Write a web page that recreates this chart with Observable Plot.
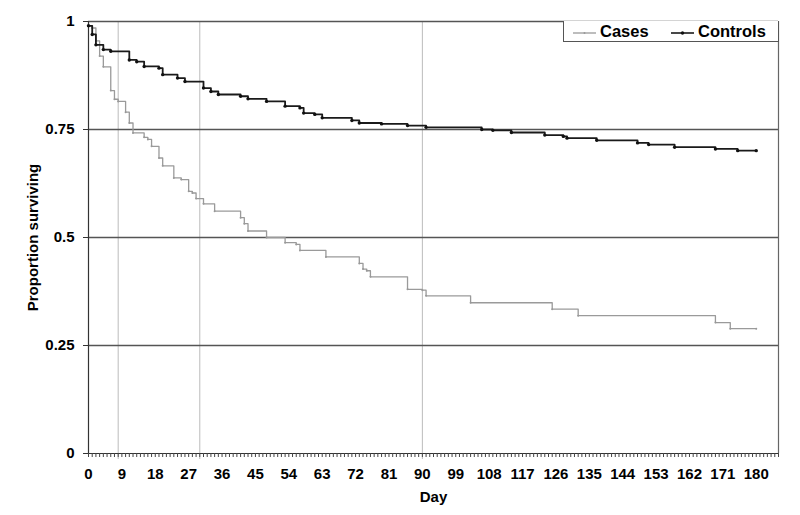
<!DOCTYPE html>
<html><head><meta charset="utf-8">
<script src="https://cdn.jsdelivr.net/npm/d3@7"></script>
<script src="https://cdn.jsdelivr.net/npm/@observablehq/plot@0.6"></script>
<style>
body{margin:0;background:#fff;font-family:"Liberation Sans",Arial,sans-serif;}
#wrap{position:relative;width:800px;height:515px;}
#legend{position:absolute;left:563px;top:21px;width:214px;height:20px;border:1px solid #555;border-top:none;background:#fff;font-weight:bold;font-size:16.5px;color:#000;}
#legend .item{position:absolute;top:2px;line-height:16px;white-space:nowrap;}
#legend svg{vertical-align:middle;margin-right:4px;}
</style>
</head><body><div id="wrap"></div>
<script>
// Kaplan–Meier steps (day at which each level starts)
const caseDays   = [0, 1, 2, 3, 4, 6, 7, 8, 10, 11, 12, 15, 16, 17, 19, 20, 23, 25, 27, 28, 29, 31, 34, 41, 42, 43, 48, 53, 56, 57, 64, 73, 74, 75, 76, 86, 90, 91, 103, 125, 132, 169, 173, 180];
const caseValues = [0.99, 0.985, 0.955, 0.92, 0.895, 0.84, 0.82, 0.815, 0.79, 0.765, 0.742, 0.732, 0.727, 0.711, 0.684, 0.666, 0.638, 0.634, 0.607, 0.603, 0.59, 0.578, 0.561, 0.546, 0.532, 0.515, 0.5, 0.488, 0.484, 0.47, 0.455, 0.44, 0.427, 0.423, 0.409, 0.38, 0.378, 0.365, 0.349, 0.334, 0.319, 0.303, 0.289, 0.289];
const controlDays   = [0, 1, 2, 4, 6, 11, 13, 15, 19, 20, 24, 26, 31, 33, 35, 41, 43, 48, 53, 57, 58, 61, 63, 71, 73, 79, 86, 91, 106, 109, 114, 123, 128, 129, 137, 148, 151, 158, 169, 175, 180];
const controlValues = [0.99, 0.97, 0.946, 0.935, 0.931, 0.911, 0.907, 0.896, 0.892, 0.877, 0.869, 0.861, 0.846, 0.838, 0.831, 0.827, 0.821, 0.815, 0.804, 0.8, 0.788, 0.785, 0.777, 0.771, 0.765, 0.763, 0.759, 0.755, 0.75, 0.748, 0.743, 0.737, 0.734, 0.73, 0.725, 0.719, 0.715, 0.709, 0.705, 0.701, 0.701];

const xTickLabels = [0, 9, 18, 27, 36, 45, 54, 63, 72, 81, 90, 99, 108, 117, 126, 135, 144, 153, 162, 171, 180];
const xMinorTicks = d3.range(0, 187);
const yTickValues = [0, 0.25, 0.5, 0.75, 1];
const yTickLabels = ["0", "0.25", "0.5", "0.75", "1"];
const gridValues  = [0.25, 0.5, 0.75, 1];
const refDays     = [8, 30, 90];
const xMax = 186;

const cases    = caseDays.map((d, i) => ({day: d, value: caseValues[i]}));
const controls = controlDays.map((d, i) => ({day: d, value: controlValues[i]}));

const chart = Plot.plot({
  width: 800, height: 515,
  marginLeft: 88, marginRight: 22, marginTop: 21, marginBottom: 62,
  x: {domain: [0, xMax]},
  y: {domain: [0, 1]},
  style: {fontFamily: '"Liberation Sans", Arial, sans-serif', fontSize: "15px", fontWeight: "bold", color: "#000", background: "#fff", overflow: "visible"},
  marks: [
    Plot.ruleX(refDays, {stroke: "#bbb", strokeWidth: 1, insetBottom: -6}),
    Plot.ruleY(gridValues, {stroke: "#555", strokeWidth: 1.4}),
    Plot.ruleX([xMax], {stroke: "#666", strokeWidth: 1.2}),
    Plot.axisY({ticks: yTickValues, tickSize: 5, tickPadding: 9, tickFormat: d => yTickLabels[yTickValues.indexOf(d)], label: "Proportion surviving", labelArrow: "none", labelAnchor: "center", labelOffset: 61, stroke: "#333", fill: "#000"}),
    Plot.ruleX([0], {stroke: "#333", strokeWidth: 1.2}),
    Plot.line(cases, {x: "day", y: "value", curve: "step-after", stroke: "#9a9a9a", strokeWidth: 1.3}),
    Plot.dot(cases, {x: "day", y: "value", r: 1, fill: "#999"}),
    Plot.line(controls, {x: "day", y: "value", curve: "step-after", stroke: "#1a1a1a", strokeWidth: 1.8}),
    Plot.dot(controls, {x: "day", y: "value", r: 1.7, fill: "#111"}),
    Plot.ruleY([0], {stroke: "#333", strokeWidth: 1.2}),
    Plot.axisX({ticks: xMinorTicks, tickSize: 4, tickPadding: 11, tickFormat: d => xTickLabels.includes(d) ? String(d) : "", label: "Day", labelArrow: "none", labelAnchor: "center", labelOffset: 48, stroke: "#444", strokeWidth: 1, fill: "#000"})
  ]
});
const wrap = document.getElementById("wrap");
wrap.appendChild(chart);

const legend = document.createElement("div");
legend.id = "legend";
legend.innerHTML =
  '<div class="item" style="left:9px"><svg width="23" height="8"><line x1="0" y1="4" x2="23" y2="4" stroke="#9a9a9a" stroke-width="1.3"/><circle cx="11.5" cy="4" r="1" fill="#999"/></svg>Cases</div>' +
  '<div class="item" style="left:107px"><svg width="23" height="8"><line x1="0" y1="4" x2="23" y2="4" stroke="#1a1a1a" stroke-width="1.6"/><circle cx="11.5" cy="4" r="1.7" fill="#111"/></svg>Controls</div>';
wrap.appendChild(legend);
</script>
</body></html>
